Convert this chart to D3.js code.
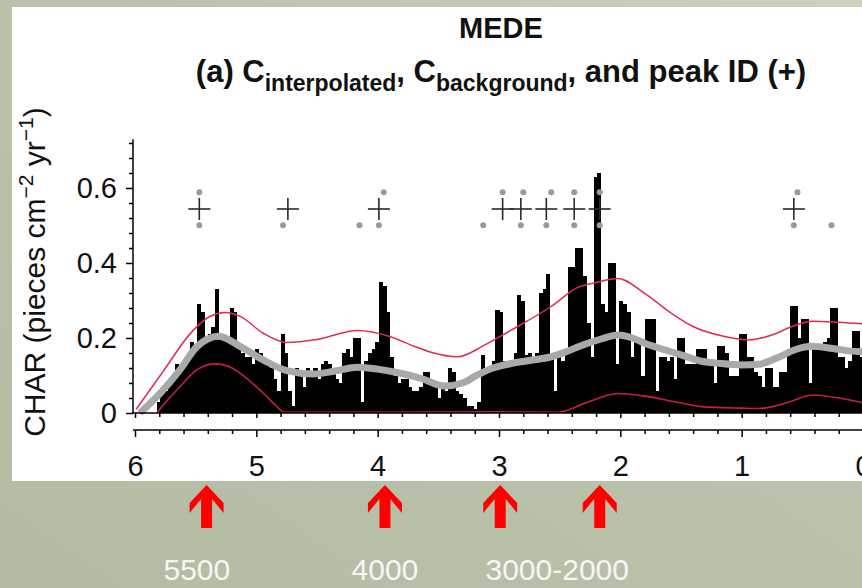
<!DOCTYPE html>
<html><head><meta charset="utf-8">
<script src="https://cdn.jsdelivr.net/npm/d3@7"></script>
<style>html,body{margin:0;padding:0;overflow:hidden;background:#c0c6b1} svg{display:block}</style>
</head><body>
<svg id="c" width="862" height="588"></svg>
<script>
// ---- data (ages in ka BP, CHAR in pieces cm^-2 yr^-1) ----
const binStart = 5.82;   // oldest edge of the interpolated record
const binWidth = 0.03;   // interpolation step (ka)
const charValues = [
  0.03,0.05,0.06,0.08,0.10,0.13,0.11,0.14,0.15,0.19,
  0.17,0.29,0.27,0.20,0.21,0.23,0.33,0.21,0.20,0.19,
  0.28,0.27,0.17,0.16,0.15,0.15,0.13,0.17,0.16,0.13,
  0.14,0.12,0.09,0.06,0.21,0.16,0.06,0.02,0.12,0.11,
  0.07,0.12,0.11,0.12,0.09,0.13,0.14,0.13,0.12,0.09,
  0.08,0.16,0.17,0.15,0.20,0.20,0.03,0.14,0.16,0.17,
  0.19,0.35,0.34,0.27,0.15,0.10,0.08,0.09,0.09,0.07,
  0.06,0.06,0.07,0.11,0.11,0.08,0.08,0.04,0.07,0.06,
  0.12,0.11,0.06,0.05,0.04,0.02,0.02,0.01,0.03,0.155,
  0.12,0.12,0.14,0.275,0.27,0.14,0.13,0.14,0.16,0.315,
  0.30,0.155,0.16,0.14,0.16,0.32,0.33,0.37,0.15,0.06,
  0.15,0.14,0.17,0.39,0.39,0.44,0.44,0.365,0.24,0.15,
  0.63,0.64,0.29,0.27,0.40,0.40,0.13,0.30,0.29,0.27,
  0.15,0.19,0.19,0.10,0.25,0.25,0.25,0.06,0.15,0.15,
  0.14,0.15,0.09,0.20,0.20,0.13,0.13,0.13,0.17,0.17,
  0.17,0.13,0.13,0.08,0.18,0.18,0.16,0.10,0.10,0.10,
  0.21,0.21,0.15,0.15,0.11,0.10,0.07,0.12,0.12,0.07,
  0.07,0.11,0.11,0.17,0.285,0.285,0.20,0.25,0.25,0.08,
  0.18,0.18,0.18,0.19,0.20,0.28,0.28,0.15,0.15,0.12,
  0.14,0.22,0.22,0.15
];
const backgroundAges = [5.96,5.8,5.63,5.49,5.31,5.13,4.94,4.75,4.53,4.35,4.17,4.0,3.84,3.64,3.45,3.3,3.17,3.05,2.9,2.75,2.57,2.45,2.32,2.15,2.02,1.9,1.8,1.65,1.5,1.33,1.2,1.0,0.86,0.7,0.55,0.42,0.25,0.1,-0.02];
const backgroundVals = [0.0,0.05,0.115,0.177,0.205,0.177,0.141,0.113,0.104,0.112,0.122,0.117,0.108,0.092,0.072,0.08,0.103,0.12,0.132,0.14,0.15,0.163,0.18,0.198,0.208,0.2,0.186,0.17,0.155,0.138,0.133,0.128,0.13,0.148,0.17,0.178,0.172,0.165,0.163];
const upperAges = [5.99,5.77,5.53,5.38,5.26,5.13,4.94,4.75,4.5,4.17,3.9,3.7,3.56,3.34,3.12,2.9,2.57,2.35,2.2,2.02,1.8,1.58,1.41,1.14,0.94,0.75,0.59,0.42,0.2,-0.02];
const upperVals = [0.01,0.11,0.217,0.258,0.268,0.257,0.212,0.188,0.196,0.22,0.204,0.178,0.162,0.15,0.181,0.221,0.284,0.335,0.348,0.359,0.319,0.266,0.232,0.204,0.195,0.208,0.23,0.245,0.242,0.237];
const lowerAges = [5.82,5.77,5.63,5.49,5.34,5.2,5.13,4.94,4.84,4.77,4.0,3.0,2.51,2.3,2.02,1.8,1.55,1.33,1.0,0.86,0.6,0.42,0.2,-0.02];
const lowerVals = [0.0,0.02,0.07,0.115,0.131,0.12,0.105,0.052,0.02,0.002,0.002,0.003,0.002,0.025,0.052,0.045,0.03,0.017,0.013,0.012,0.03,0.048,0.04,0.026];
const peakAges = [5.47,4.74,3.99,2.97,2.82,2.61,2.38,2.17,0.57];
const peakLevel = 0.544;
const dotHighAges = [5.47,3.95,2.97,2.80,2.57,2.38,2.17,0.54];
const dotHighLevel = 0.589;
const dotLowAges = [5.47,4.78,4.15,3.99,3.13,2.82,2.61,2.38,2.17,0.57,0.26];
const dotLowLevel = 0.501;
const xTickLabels = [6,5,4,3,2,1,0];
const yTickLabels = [0,0.2,0.4,0.6];
const arrowAges = [5.41,3.94,2.99,2.17];
const noteTexts = ["5500","4000","3000-2000"];
const noteAges = [5.49,3.94,2.52];

// ---- drawing ----
const svg = d3.select('#c');
const FONT = '"Liberation Sans", Arial, Helvetica, sans-serif';
const defs = svg.append('defs');
const grad = defs.append('linearGradient').attr('id','bg').attr('x1','0').attr('y1','1').attr('x2','1').attr('y2','0');
grad.append('stop').attr('offset','0').attr('stop-color','#b3bba3');
grad.append('stop').attr('offset','0.6').attr('stop-color','#bcc3ad');
grad.append('stop').attr('offset','1').attr('stop-color','#cdd1c0');
svg.append('rect').attr('width',862).attr('height',588).attr('fill','url(#bg)');
svg.append('rect').attr('x',12).attr('y',7).attr('width',850).attr('height',474).attr('fill','#ffffff');

const x = d3.scaleLinear().domain([6,0]).range([135,863]);
const y = d3.scaleLinear().domain([0,0.73]).range([413,139.25]);
const axX = 133;

// bars
const bins = charValues.map((v,i)=>({hi: binStart - i*binWidth, lo: binStart - (i+1)*binWidth, v}));
svg.append('g').selectAll('rect').data(bins).join('rect')
  .attr('x', d=>x(d.hi)).attr('width', d=>x(d.lo)-x(d.hi)+0.5)
  .attr('y', d=>y(d.v)).attr('height', d=>y(0)-y(d.v))
  .attr('fill','#000').attr('shape-rendering','crispEdges');

const line = d3.line().x(d=>x(d[0])).y(d=>y(d[1])).curve(d3.curveMonotoneX);
const zip = (a,b)=>a.map((t,i)=>[t,b[i]]);
svg.append('path').attr('d', line(zip(backgroundAges, backgroundVals)))
  .attr('fill','none').attr('stroke','#a9a9a9').attr('stroke-width',7).attr('stroke-linejoin','round');
svg.append('path').attr('d', line(zip(lowerAges, lowerVals)))
  .attr('fill','none').attr('stroke','#c8203c').attr('stroke-width',1.6);
svg.append('path').attr('d', line(zip(upperAges, upperVals)))
  .attr('fill','none').attr('stroke','#dc2f4f').attr('stroke-width',1.5);

// peak crosses
const cross = svg.append('g').attr('stroke','#2a2a2a').attr('stroke-width',1.6);
peakAges.forEach(a=>{
  const cx = x(a), cy = y(peakLevel);
  cross.append('line').attr('x1',cx-11).attr('x2',cx+11).attr('y1',cy).attr('y2',cy);
  cross.append('line').attr('x1',cx).attr('x2',cx).attr('y1',cy-11).attr('y2',cy+11);
});
// grey dots
svg.append('g').selectAll('circle').data(dotHighAges.map(a=>[a,dotHighLevel]).concat(dotLowAges.map(a=>[a,dotLowLevel])))
  .join('circle').attr('cx',d=>x(d[0])).attr('cy',d=>y(d[1])).attr('r',3).attr('fill','#9a9a9a');

// axes
const axisStyle = g => { g.selectAll('line,path').attr('stroke','#000').attr('stroke-width',1.5); g.selectAll('text').attr('font-family',FONT).attr('font-size',29).attr('fill','#111'); };
// y axis
const yMinor = d3.range(0.04, 0.73, 0.04).filter(v=>Math.abs(v/0.2-Math.round(v/0.2))>1e-6);
svg.append('line').attr('x1',axX).attr('x2',axX).attr('y1',y(0)).attr('y2',y(0.73)).attr('stroke','#000').attr('stroke-width',1.5);
svg.append('g').attr('transform',`translate(${axX},0)`)
  .call(d3.axisLeft(y).tickValues(yMinor).tickSize(4).tickFormat('')).call(g=>g.select('.domain').remove()).call(axisStyle);
svg.append('g').attr('transform',`translate(${axX},0)`)
  .call(d3.axisLeft(y).tickValues(yTickLabels).tickSize(7).tickPadding(9).tickFormat(d=>d===0?'0':d3.format('.1f')(d)))
  .call(g=>g.select('.domain').remove()).call(axisStyle);

const xMinor = d3.range(0.2, 6, 0.2).filter(v=>Math.abs(v-Math.round(v))>1e-6);
// baseline axis at y = 0
svg.append('line').attr('x1',axX).attr('x2',862).attr('y1',y(0)).attr('y2',y(0)).attr('stroke','#000').attr('stroke-width',1.5);
svg.append('g').attr('transform',`translate(0,${y(0)})`)
  .call(d3.axisBottom(x).tickValues(xMinor).tickSize(4).tickFormat('')).call(g=>g.select('.domain').remove()).call(axisStyle);
svg.append('g').attr('transform',`translate(0,${y(0)})`)
  .call(d3.axisBottom(x).tickValues(xTickLabels).tickSize(5).tickFormat('')).call(g=>g.select('.domain').remove()).call(axisStyle);
// age axis below
const ageY = 430;
svg.append('line').attr('x1',axX).attr('x2',862).attr('y1',ageY).attr('y2',ageY).attr('stroke','#000').attr('stroke-width',1.5);
svg.append('g').attr('transform',`translate(0,${ageY})`)
  .call(d3.axisBottom(x).tickValues(xMinor).tickSize(4).tickFormat('')).call(g=>g.select('.domain').remove()).call(axisStyle);
svg.append('g').attr('transform',`translate(0,${ageY})`)
  .call(d3.axisBottom(x).tickValues(xTickLabels).tickSize(7).tickPadding(18).tickFormat(d3.format('d')))
  .call(g=>g.select('.domain').remove()).call(axisStyle);

// titles
svg.append('text').attr('x',501).attr('y',38).attr('text-anchor','middle')
  .attr('font-family',FONT).attr('font-weight','bold').attr('font-size',29).attr('fill','#111').text('MEDE');
const st = svg.append('text').attr('x',501).attr('y',82).attr('text-anchor','middle')
  .attr('font-family',FONT).attr('font-weight','bold').attr('font-size',31).attr('fill','#111');
st.append('tspan').text('(a) C');
st.append('tspan').attr('font-size',23).attr('dy',9).text('interpolated');
st.append('tspan').attr('dy',-9).text(', C');
st.append('tspan').attr('font-size',23).attr('dy',9).text('background');
st.append('tspan').attr('dy',-9).text(', and peak ID (+)');

const yl = svg.append('text').attr('transform','translate(45,272) rotate(-90)').attr('text-anchor','middle')
  .attr('font-family',FONT).attr('font-size',30).attr('fill','#111');
yl.append('tspan').text('CHAR (pieces cm');
yl.append('tspan').attr('font-size',21).attr('dy',-12).text('\u22122');
yl.append('tspan').attr('dy',12).text(' yr');
yl.append('tspan').attr('font-size',21).attr('dy',-12).text('\u22121');
yl.append('tspan').attr('dy',12).text(')');

// annotation arrows and labels
const arrowShape = [[0,0],[17,18],[17,28],[5.5,14],[5.5,43],[-5.5,43],[-5.5,14],[-17,28],[-17,18]];
svg.append('g').selectAll('polygon').data(arrowAges).join('polygon')
  .attr('points', a=>arrowShape.map(p=>[x(a)+p[0], 485+p[1]].join(',')).join(' '))
  .attr('fill','#ff0000');
svg.append('g').selectAll('text').data(noteTexts).join('text')
  .attr('x',(d,i)=>x(noteAges[i])).attr('y',580).attr('text-anchor','middle')
  .attr('font-family',FONT).attr('font-size',30).attr('fill','#f6f6f2').text(d=>d);
</script>
</body></html>
